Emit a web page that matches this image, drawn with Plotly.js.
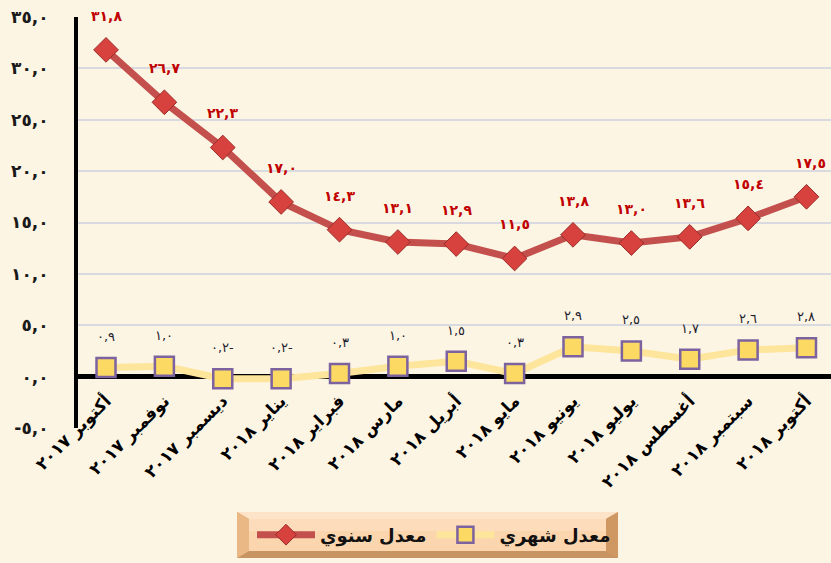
<!DOCTYPE html>
<html>
<head>
<meta charset="utf-8">
<script src="https://cdn.plot.ly/plotly-3.0.1.min.js"></script>
<style>
  html, body { margin: 0; padding: 0; background: #fdf5e3; }
  #chart { width: 831px; height: 563px; }
</style>
</head>
<body>
<div id="chart"></div>
<script>
// ---- Data ----
const categories = [
  'أكتوبر ٢٠١٧', 'نوفمبر ٢٠١٧', 'ديسمبر ٢٠١٧', 'يناير ٢٠١٨', 'فبراير ٢٠١٨',
  'مارس ٢٠١٨', 'أبريل ٢٠١٨', 'مايو ٢٠١٨', 'يونيو ٢٠١٨', 'يوليو ٢٠١٨',
  'أغسطس ٢٠١٨', 'سبتمبر ٢٠١٨', 'أكتوبر ٢٠١٨'
];
const annualName = 'معدل سنوي';
const monthlyName = 'معدل شهري';
const annual = [31.8, 26.7, 22.3, 17.0, 14.3, 13.1, 12.9, 11.5, 13.8, 13.0, 13.6, 15.4, 17.5];
const monthly = [0.9, 1.0, -0.2, -0.2, 0.3, 1.0, 1.5, 0.3, 2.9, 2.5, 1.7, 2.6, 2.8];
const yTickVals = [-5, 0, 5, 10, 15, 20, 25, 30, 35];

// ---- Helpers ----
const AR = ['٠','١','٢','٣','٤','٥','٦','٧','٨','٩'];
function arDigits(v) {
  return Math.abs(v).toFixed(1).replace('.', ',').replace(/[0-9]/g, d => AR[+d]);
}
function tickFmt(v) { return (v < 0 ? '-' : '') + arDigits(v); }
function labelFmt(v) { return arDigits(v) + (v < 0 ? '-' : ''); }

const FONT = 'DejaVu Sans';
const xIdx = categories.map((_, i) => i);

const traces = [
  {
    x: xIdx, y: annual, name: annualName, type: 'scatter', mode: 'lines+markers',
    line: { color: '#c4504d', width: 7 },
    marker: { symbol: 'diamond', size: 19, color: '#d8423e', line: { color: '#9a2b28', width: 1 } },
    hoverinfo: 'skip'
  },
  {
    x: xIdx, y: monthly, name: monthlyName, type: 'scatter', mode: 'lines+markers',
    line: { color: '#fde59c', width: 7 },
    marker: { symbol: 'square', size: 19, color: '#fbd963', line: { color: '#7d62a0', width: 2.5 } },
    hoverinfo: 'skip'
  }
];

const annotations = [];
annual.forEach((v, i) => {
  const last = i === annual.length - 1;
  annotations.push({
    x: i, y: v, xref: 'x', yref: 'y', text: labelFmt(v), showarrow: false,
    yshift: 34, xshift: last ? 4 : 0,
    font: { family: FONT, size: 14, color: '#c00000', weight: 'bold' }
  });
});
monthly.forEach((v, i) => {
  annotations.push({
    x: i, y: v, xref: 'x', yref: 'y', text: labelFmt(v), showarrow: false,
    yshift: 31,
    font: { family: FONT, size: 13, color: '#222230' }
  });
});

// paper-coordinate helpers for legend box (plot area: x 78..831, y 17..428)
const L = 78, W = 753, T = 17, H = 411;
const px2x = p => (p - L) / W;
const py2y = p => (T + H - p) / H;
function poly(pts, fill) {
  const d = pts.map((p, k) => (k ? 'L' : 'M') + px2x(p[0]).toFixed(5) + ',' + py2y(p[1]).toFixed(5)).join(' ') + ' Z';
  return { type: 'path', xref: 'paper', yref: 'paper', layer: 'above', path: d,
           fillcolor: fill, line: { width: 0 } };
}
const bx0 = 237, bx1 = 618, by0 = 512, by1 = 558, bv = 12, bvy = 7;
const shapes = [
  poly([[bx0, by0], [bx1, by0], [bx1, by1], [bx0, by1]], '#dca36e'),
  poly([[bx0, by0], [bx1, by0], [bx1 - bv, by0 + bvy], [bx0 + bv, by0 + bvy]], '#fde3c7'),
  poly([[bx0, by1], [bx1, by1], [bx1 - bv, by1 - bvy], [bx0 + bv, by1 - bvy]], '#c89461'),
  poly([[bx0, by0], [bx0 + bv, by0 + bvy], [bx0 + bv, by1 - bvy], [bx0, by1]], '#eab885'),
  poly([[bx1, by0], [bx1 - bv, by0 + bvy], [bx1 - bv, by1 - bvy], [bx1, by1]], '#cf9863'),
  poly([[bx0 + bv, by0 + bvy], [bx1 - bv, by0 + bvy], [bx1 - bv, by1 - bvy], [bx0 + bv, by1 - bvy]], '#fbd5ad'),
  poly([[bx0 + bv, by0 + bvy], [bx1 - bv, by0 + bvy], [bx1 - bv, by0 + bvy + 12], [bx0 + bv, by0 + bvy + 12]], '#fcdcbb')
];

const layout = {
  width: 831, height: 563,
  margin: { l: L, r: 0, t: T, b: 563 - T - H },
  paper_bgcolor: '#fdf5e3',
  plot_bgcolor: '#fdf5e3',
  showlegend: true,
  legend: {
    orientation: 'h', x: px2x(434), xanchor: 'center', y: py2y(535), yanchor: 'middle',
    bgcolor: 'rgba(0,0,0,0)', borderwidth: 0,
    font: { family: FONT, size: 18, color: '#111', weight: 'bold' },
    itemwidth: 58, itemclick: false, itemdoubleclick: false
  },
  xaxis: {
    type: 'linear', range: [-0.48, 12.42],
    tickvals: xIdx, ticktext: categories, tickangle: -45,
    anchor: 'free', position: 5 / 40,
    showline: false, showgrid: false, zeroline: false, ticks: '',
    ticklabelstandoff: 10,
    tickfont: { family: FONT, size: 17, color: '#000', weight: 'bold' }
  },
  yaxis: {
    range: [-5, 35], tickvals: yTickVals, ticktext: yTickVals.map(tickFmt),
    showline: true, linecolor: '#000', linewidth: 4,
    showgrid: true, gridcolor: '#d8dae0', gridwidth: 2,
    zeroline: true, zerolinecolor: '#000', zerolinewidth: 5,
    ticks: '', ticklabelstandoff: 22,
    tickfont: { family: FONT, size: 17, color: '#1a1a1a', weight: 'bold' }
  },
  annotations: annotations,
  shapes: shapes
};

Plotly.newPlot('chart', traces, layout, { displayModeBar: false, staticPlot: true });
</script>
</body>
</html>
